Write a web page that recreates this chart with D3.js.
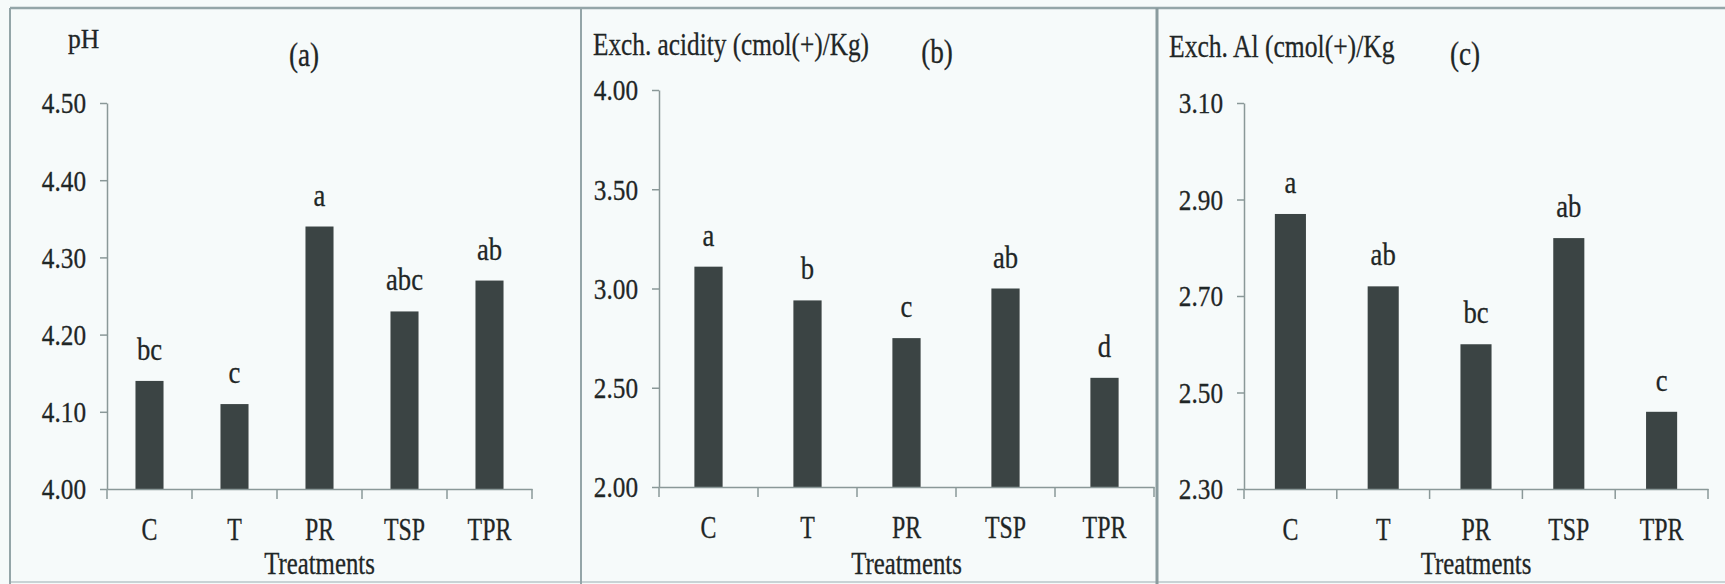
<!DOCTYPE html>
<html>
<head>
<meta charset="utf-8">
<script src="https://cdn.jsdelivr.net/npm/d3@7"></script>
<style>
  html, body { margin: 0; padding: 0; background: #f6fafa; }
  svg { display: block; }
  text { font-family: "Liberation Serif", "Times New Roman", serif; fill: #1f2626; stroke: #1f2626; stroke-width: 0.3px; }
</style>
</head>
<body>
<svg id="chart" width="1725" height="584"></svg>
<script>
// Soil properties under five treatments
const treatments = ["C", "T", "PR", "TSP", "TPR"];

const phValues = [4.14, 4.11, 4.34, 4.23, 4.27];
const phLetters = ["bc", "c", "a", "abc", "ab"];
const phTicks = [4.00, 4.10, 4.20, 4.30, 4.40, 4.50];

const acidityValues = [3.11, 2.94, 2.75, 3.00, 2.55];
const acidityLetters = ["a", "b", "c", "ab", "d"];
const acidityTicks = [2.00, 2.50, 3.00, 3.50, 4.00];

const alValues = [2.87, 2.72, 2.60, 2.82, 2.46];
const alLetters = ["a", "ab", "bc", "ab", "c"];
const alTicks = [2.30, 2.50, 2.70, 2.90, 3.10];

const xTitle = "Treatments";

// panel layout
const panels = [
  { values: phValues, letters: phLetters, ticks: phTicks,
    title: "pH", tag: "(a)",
    x0: 107, x1: 532, yTop: 103, yBot: 489, barFrac: 0.33,
    titleX: 68, titleY: 48, titleSize: 27, titleScale: 0.95,
    tagX: 304, tagY: 66 },
  { values: acidityValues, letters: acidityLetters, ticks: acidityTicks,
    title: "Exch. acidity (cmol(+)/Kg)", tag: "(b)",
    x0: 659, x1: 1154, yTop: 90, yBot: 487, barFrac: 0.285,
    titleX: 593, titleY: 55, titleSize: 32, titleScale: 0.79,
    tagX: 937, tagY: 63 },
  { values: alValues, letters: alLetters, ticks: alTicks,
    title: "Exch. Al (cmol(+)/Kg", tag: "(c)",
    x0: 1244, x1: 1708, yTop: 103, yBot: 489, barFrac: 0.335,
    titleX: 1169, titleY: 57, titleSize: 32, titleScale: 0.80,
    tagX: 1465, tagY: 65 }
];

const svg = d3.select("#chart");

// background and frame
svg.append("rect").attr("width", 1725).attr("height", 584).attr("fill", "#f6fafa");
const frame = svg.append("g").attr("stroke", "#94a5a8").attr("fill", "none");
frame.append("line").attr("x1", 10).attr("x2", 1725).attr("y1", 8).attr("y2", 8).attr("stroke-width", 2.5);
frame.append("line").attr("x1", 10).attr("x2", 1725).attr("y1", 582).attr("y2", 582).attr("stroke-width", 1.5).attr("stroke", "#b9c6c8");
[10, 581].forEach(x => frame.append("line").attr("x1", x).attr("x2", x).attr("y1", 8).attr("y2", 584).attr("stroke-width", 2));
frame.append("line").attr("x1", 1157).attr("x2", 1157).attr("y1", 8).attr("y2", 584).attr("stroke-width", 3).attr("stroke", "#8a9b9e");

function scaledText(g, str, x, y, size, sx, anchor) {
  return g.append("text")
    .attr("transform", `translate(${x},${y}) scale(${sx},1)`)
    .attr("text-anchor", anchor)
    .style("font-size", size + "px")
    .text(str);
}

const axisColor = "#8a9898";

panels.forEach(p => {
  const g = svg.append("g");
  const domain = [p.ticks[0], p.ticks[p.ticks.length - 1]];
  const y = d3.scaleLinear().domain(domain).range([p.yBot, p.yTop]);
  const x = d3.scaleBand().domain(treatments).range([p.x0, p.x1]).padding(0);
  const bw = x.bandwidth() * p.barFrac;

  // bars
  g.selectAll("rect.bar").data(p.values).join("rect")
    .attr("class", "bar")
    .attr("x", (d, i) => x(treatments[i]) + (x.bandwidth() - bw) / 2)
    .attr("width", bw)
    .attr("y", d => y(d))
    .attr("height", d => y(domain[0]) - y(d))
    .attr("fill", "#3b4444");

  // significance letters
  p.values.forEach((v, i) => {
    scaledText(g, p.letters[i], x(treatments[i]) + x.bandwidth() / 2, y(v) - 21, 31, 0.86, "middle");
  });

  // y axis
  const yAxis = g.append("g")
    .attr("transform", `translate(${p.x0},0)`)
    .call(d3.axisLeft(y).tickValues(p.ticks).tickFormat(d3.format(".2f")).tickSize(7).tickSizeOuter(0));
  yAxis.attr("font-family", null).attr("font-size", null);
  yAxis.select(".domain").attr("stroke", axisColor).attr("stroke-width", 1.5);
  yAxis.selectAll(".tick line").attr("stroke", axisColor).attr("stroke-width", 1.5);
  yAxis.selectAll(".tick text")
    .attr("x", null).attr("dy", "0.34em")
    .attr("transform", "translate(-21,0) scale(0.87,1)")
    .attr("fill", "#1f2626")
    .style("font-size", "29px");

  // x axis
  const xAxis = g.append("g")
    .attr("transform", `translate(0,${p.yBot})`)
    .call(d3.axisBottom(x).tickSize(0).tickSizeOuter(0).tickPadding(0));
  xAxis.attr("font-family", null).attr("font-size", null);
  xAxis.select(".domain").attr("stroke", axisColor).attr("stroke-width", 1.5);
  xAxis.selectAll(".tick text")
    .attr("y", null).attr("dy", null)
    .attr("transform", "translate(0,51) scale(0.77,1)")
    .attr("fill", "#1f2626")
    .style("font-size", "31px");

  // category boundary ticks
  const edges = d3.range(treatments.length + 1).map(i => p.x0 + i * x.step());
  g.selectAll("line.edge").data(edges).join("line")
    .attr("class", "edge")
    .attr("x1", d => d).attr("x2", d => d)
    .attr("y1", p.yBot).attr("y2", p.yBot + 10)
    .attr("stroke", axisColor).attr("stroke-width", 1.5);

  // axis title under categories
  scaledText(g, xTitle, (p.x0 + p.x1) / 2, 574, 31, 0.8, "middle");

  // y title and panel tag
  scaledText(g, p.title, p.titleX, p.titleY, p.titleSize, p.titleScale, "start");
  scaledText(g, p.tag, p.tagX, p.tagY, 34, 0.8, "middle");
});
</script>
</body>
</html>
